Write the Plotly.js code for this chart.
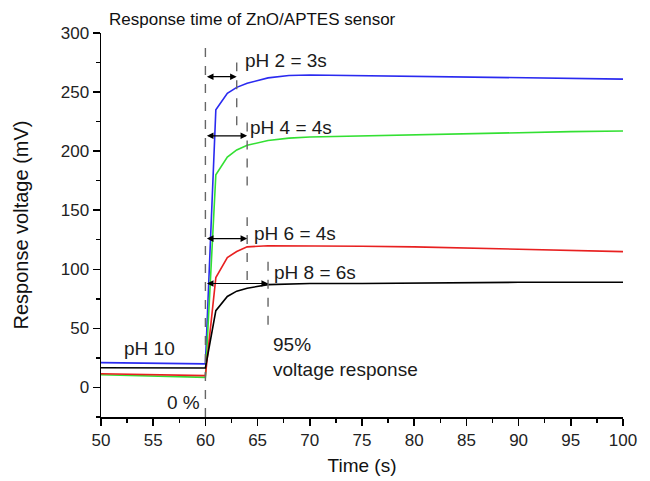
<!DOCTYPE html>
<html>
<head>
<meta charset="utf-8">
<script src="https://cdn.plot.ly/plotly-3.0.1.min.js"></script>
<style>html,body{margin:0;padding:0;background:#fff;}#chart{width:650px;height:481px;}</style>
</head>
<body>
<div id="chart"></div>
<script>
// ---- data ----
const time = [50, 55, 60, 61, 62.1, 63, 64, 66, 68, 70, 75, 80, 85, 90, 95, 100];
const pH2 = [21, 20.5, 20, 235, 249, 254, 257.5, 262, 264, 264.5, 264, 263, 262.5, 262, 261.5, 261];
const pH4 = [10.7, 9.6, 8.5, 180, 195, 201, 205, 209, 211, 212, 213, 214, 215, 216, 216.5, 217];
const pH6 = [11.6, 10.8, 10, 93, 110, 115, 119, 120, 120, 120, 119.5, 119, 118, 117, 116, 115];
const pH8 = [16.7, 16.6, 16.5, 65, 77, 81.5, 84, 87, 87.5, 88, 88, 88.5, 88.5, 89, 89, 89];
const seriesNames = ['pH 2', 'pH 4', 'pH 6', 'pH 8'];
const seriesColors = ['#2a2af0', '#33e033', '#e82020', '#000000'];

// response-time arrows: start x, end x, y
const arrowStart = [60, 60, 60, 60];
const arrowEnd = [63, 64, 64, 66];
const arrowY = [263, 213, 126, 88];

// dashed guide lines: x, y from, y to
const guideX = [60, 63, 64, 64, 66];
const guideY0 = [-25, 222, 171, 91, 53];
const guideY1 = [294, 275, 225, 144, 108];

// text labels
const labelText = ['pH 2 = 3s', 'pH 4 = 4s', 'pH 6 = 4s', 'pH 8 = 6s', 'pH 10', '0 %', '95%<br>voltage response'];
const labelX = [63.6, 64.1, 64.5, 66.4, 52, 56.1, 66.3];
const labelY = [277, 220, 130.5, 97.5, 33, -12.7, 26];

const allY = [pH2, pH4, pH6, pH8];
const traces = allY.map((ys, i) => ({
  x: time, y: ys, type: 'scatter', mode: 'lines', name: seriesNames[i],
  line: {color: seriesColors[i], width: 1.6}, showlegend: false
}));

const FONT = 'Liberation Sans, Arial, sans-serif';
const shapes = guideX.map((gx, i) => ({
  type: 'line', xref: 'x', yref: 'y', x0: gx, x1: gx, y0: guideY0[i], y1: guideY1[i],
  line: {color: '#666', width: 1.4, dash: 'dash'}
}));

const annotations = [];
arrowY.forEach((ay, i) => {
  annotations.push({
    xref: 'x', yref: 'y', axref: 'x', ayref: 'y',
    x: arrowEnd[i], y: ay, ax: arrowStart[i], ay: ay,
    text: '', showarrow: true, arrowhead: 2, startarrowhead: 2, arrowside: 'end+start',
    arrowsize: 1.1, startarrowsize: 1.1, arrowwidth: 1.2, arrowcolor: '#000', standoff: 0, startstandoff: 0
  });
});
labelText.forEach((t, i) => {
  annotations.push({
    xref: 'x', yref: 'y', x: labelX[i], y: labelY[i], text: t, showarrow: false,
    xanchor: 'left', yanchor: 'middle', align: 'left',
    font: {family: FONT, size: 19, color: '#1a1a1a'}
  });
});

const layout = {
  width: 650, height: 481,
  margin: {l: 101, r: 27, t: 33, b: 64},
  paper_bgcolor: '#fff', plot_bgcolor: '#fff',
  font: {family: FONT, color: '#222'},
  title: {text: 'Response time of ZnO/APTES sensor', x: 109/650, xanchor: 'left', xref: 'container',
          y: 1 - 19/481, yanchor: 'middle', yref: 'container', font: {family: FONT, size: 17, color: '#111'}},
  xaxis: {
    range: [50, 100], dtick: 5, tick0: 50, showgrid: false, zeroline: false,
    showline: true, linecolor: '#000', linewidth: 1.5,
    ticks: 'outside', ticklen: 7, tickwidth: 1.5, tickcolor: '#000',
    tickfont: {family: FONT, size: 17, color: '#222'},
    minor: {dtick: 2.5, ticks: 'outside', ticklen: 4, tickwidth: 1.3, tickcolor: '#000', showgrid: false},
    title: {text: 'Time (s)', font: {family: FONT, size: 19, color: '#111'}, standoff: 10}
  },
  yaxis: {
    range: [-25, 300], dtick: 50, tick0: 0, showgrid: false, zeroline: false,
    showline: true, linecolor: '#000', linewidth: 1.5,
    ticks: 'outside', ticklen: 7, tickwidth: 1.5, tickcolor: '#000',
    tickfont: {family: FONT, size: 17, color: '#222'},
    minor: {dtick: 25, ticks: 'outside', ticklen: 4, tickwidth: 1.3, tickcolor: '#000', showgrid: false},
    title: {text: 'Response voltage (mV)', font: {family: FONT, size: 20, color: '#111'}, standoff: 26}
  },
  shapes: shapes,
  annotations: annotations,
  showlegend: false
};

Plotly.newPlot('chart', traces, layout, {displayModeBar: false, staticPlot: true});
</script>
</body>
</html>
